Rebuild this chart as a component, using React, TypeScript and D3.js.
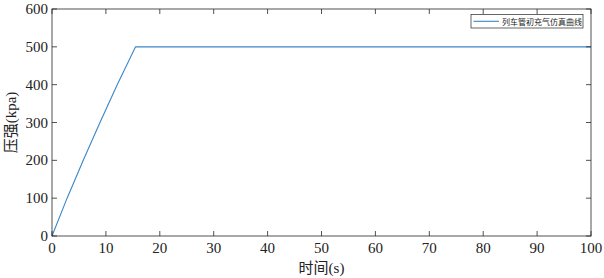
import React from "react";
import * as d3 from "d3";

// time (s) and pressure (kpa)
const times = [0, 2.8, 5.8, 8.9, 12.1, 15.5, 100];
const pressures = [0, 100, 200, 300, 400, 500, 500];
const xTicks = [0, 10, 20, 30, 40, 50, 60, 70, 80, 90, 100];
const yTicks = [0, 100, 200, 300, 400, 500, 600];
const legendLabel = "列车管初充气仿真曲线";

const W = 604;
const H = 278;
const m = { left: 52, right: 13, top: 9, bottom: 42 };
const serif = "Liberation Serif, DejaVu Serif, serif";
const cjk = "Noto Sans CJK SC";

const App = () => {
  const x = d3.scaleLinear().domain([0, 100]).range([m.left, W - m.right]);
  const y = d3.scaleLinear().domain([0, 600]).range([H - m.bottom, m.top]);
  const line = d3
    .line<number>()
    .x((d, i) => x(times[i]))
    .y(d => y(d));

  const axisColor = "#262626";
  const tickLen = 5;
  const x0 = x(0), x1 = x(100), y0 = y(0), y1 = y(600);

  return (
    <svg width={W} height={H} style={{ position: "absolute", left: 0, top: 0 }}>
      <rect x={0} y={0} width={W} height={H} fill="#fff" />
      <path d={line(pressures) || ""} fill="none" stroke="#3a86c8" strokeWidth={1.1} />
      <rect x={x0} y={y1} width={x1 - x0} height={y0 - y1} fill="none" stroke={axisColor} strokeWidth={0.8} />
      {xTicks.map(t => (
        <g key={"x" + t}>
          <line x1={x(t)} x2={x(t)} y1={y0} y2={y0 - tickLen} stroke={axisColor} strokeWidth={0.8} />
          <line x1={x(t)} x2={x(t)} y1={y1} y2={y1 + tickLen} stroke={axisColor} strokeWidth={0.8} />
          <text x={x(t)} y={y0 + 17} textAnchor="middle" fontSize={15} fill="#222"
            fontFamily={serif}>{t}</text>
        </g>
      ))}
      {yTicks.map(t => (
        <g key={"y" + t}>
          <line x1={x0} x2={x0 + tickLen} y1={y(t)} y2={y(t)} stroke={axisColor} strokeWidth={0.8} />
          <line x1={x1} x2={x1 - tickLen} y1={y(t)} y2={y(t)} stroke={axisColor} strokeWidth={0.8} />
          <text x={x0 - 4} y={y(t) + 5} textAnchor="end" fontSize={15} fill="#222"
            fontFamily={serif}>{t}</text>
        </g>
      ))}
      <text x={(x0 + x1) / 2} y={273} textAnchor="middle" fontSize={15} fill="#222"
        fontFamily={serif}>
        <tspan fontFamily={cjk}>时间</tspan>(s)
      </text>
      <text transform={`translate(16 ${(y0 + y1) / 2}) rotate(-90)`} textAnchor="middle" fontSize={15} fill="#222"
        fontFamily={serif}>
        <tspan fontFamily={cjk}>压强</tspan>(kpa)
      </text>
      <g>
        <rect x={471} y={14.5} width={112} height={13.5} fill="#fff" stroke={axisColor} strokeWidth={0.7} />
        <line x1={473.5} x2={499} y1={21.3} y2={21.3} stroke="#3a86c8" strokeWidth={1.1} />
        <text x={502} y={24.5} fontSize={8} fill="#222" fontFamily={cjk}>{legendLabel}</text>
      </g>
    </svg>
  );
};

export default App;
